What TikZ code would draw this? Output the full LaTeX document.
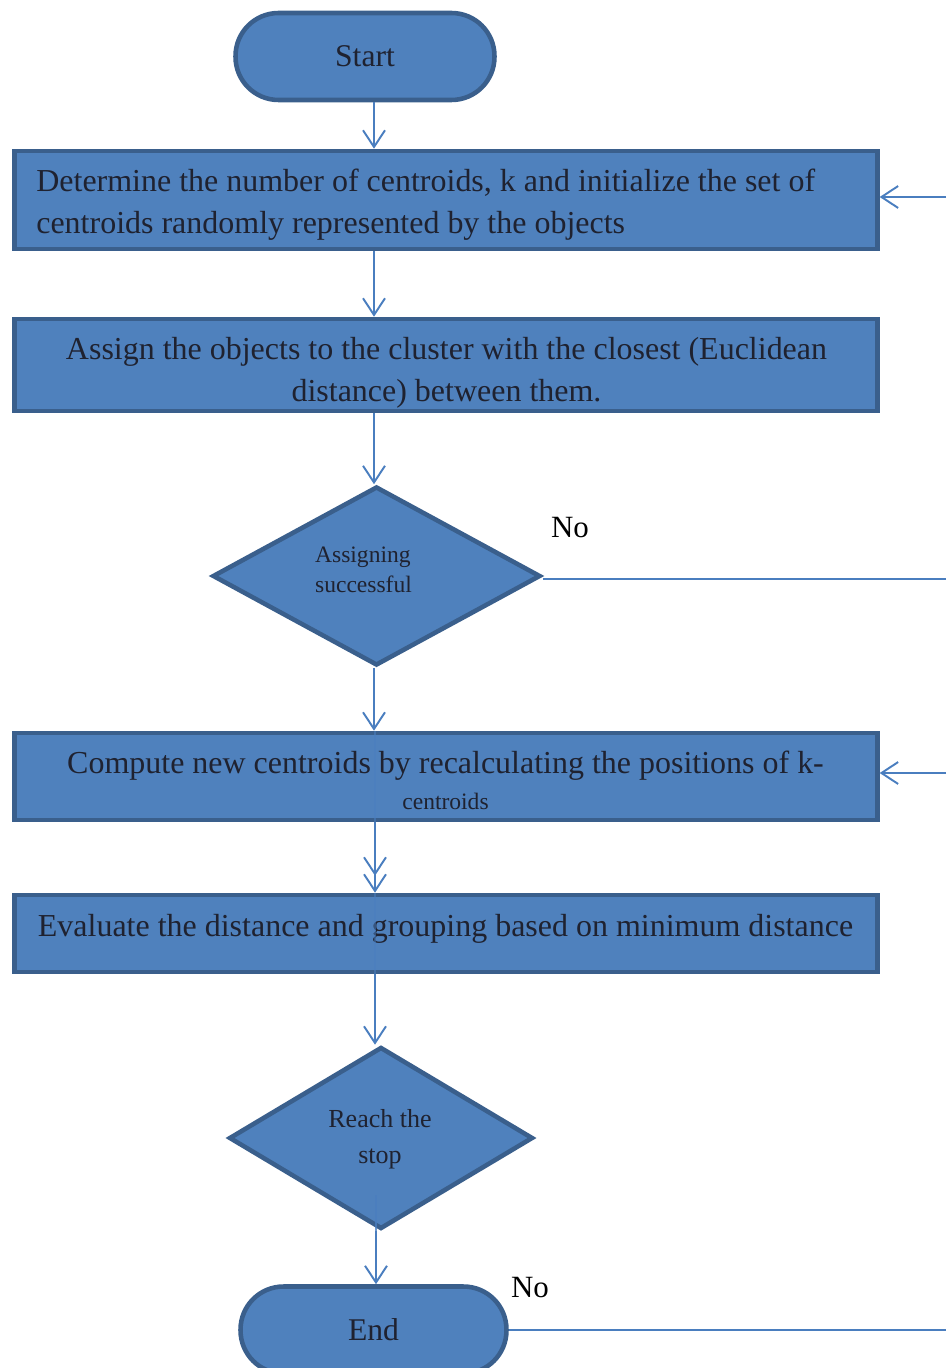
\documentclass[tikz,border=0pt]{standalone}
\usepackage{fontspec}
\setmainfont{Liberation Serif}
\usetikzlibrary{shapes.geometric,arrows.meta,calc}
\definecolor{boxfill}{HTML}{4F81BD}
\definecolor{boxedge}{HTML}{3A5F8C}
\definecolor{linkc}{HTML}{4A7EBF}
\definecolor{txt}{HTML}{1F2230}
\tikzset{
  proc/.style={rectangle, draw=boxedge, fill=boxfill, line width=2.6pt,
    minimum width=17.26cm, inner sep=0pt},
  proctext/.style={text=txt, inner sep=0pt, font=\fontsize{18.2}{23.8}\selectfont},
  term/.style={rectangle, rounded corners=0.86cm, draw=boxedge, fill=boxfill,
    line width=2.6pt, text=txt, font=\fontsize{18}{22}\selectfont},
  dec/.style={diamond, draw=boxedge, fill=boxfill, line width=2.6pt, inner sep=0pt},
  dectext/.style={text=txt, inner sep=0pt},
  link/.style={draw=linkc, line width=1.1pt},
  arr/.style={link, -{Straight Barb[length=9.5pt,width=12.5pt,line width=1.1pt]}},
  nolabel/.style={text=black, font=\fontsize{17.6}{20}\selectfont}
}
\begin{document}
\begin{tikzpicture}[x=0.02cm,y=-0.02cm]
\useasboundingbox (0,0) rectangle (946,1368);
\clip (0,0) rectangle (946,1368);
% helper coordinates
\coordinate (spine) at (374,0);
\coordinate (spine2) at (375,0);
\coordinate (in1) at (946,197);
\coordinate (in3) at (946,773);
\coordinate (out1) at (946,580);
\coordinate (out2) at (946,1334);
\coordinate (d2s) at (376,1195);

% nodes
\node[term, minimum width=5.18cm, minimum height=1.74cm] (start) at (365,56.5) {Start};
\node[proc, minimum height=1.96cm] (b1) at (446,200) {};
\node[proctext, anchor=west, align=left] (b1t) at (36,205)
  {Determine the number of centroids, k and initialize the set of\\centroids randomly represented by the objects};
\node[proc, minimum height=1.84cm] (b2) at (446,365) {};
\node[proctext, align=center] (b2t) at (446.5,373)
  {Assign the objects to the cluster with the closest (Euclidean\\distance) between them.};
\node[dec, minimum width=6.56cm, minimum height=3.58cm] (d1) at (376.5,576) {};
\node[dectext, align=left, font=\fontsize{13.4}{17}\selectfont] (d1t) at (363.5,570) {Assigning\\successful};
\node[proc, minimum height=1.74cm] (b3) at (446,776.5) {};
\node[proctext, align=center] (b3t) at (445.5,780.5)
  {Compute new centroids by recalculating the positions of k-\\[-3pt]{\fontsize{13.4}{15}\selectfont centroids}};
\node[proc, minimum height=1.54cm] (b4) at (446,933.5) {};
\node[proctext] (b4t) at (445.5,928.5)
  {Evaluate the distance and grouping based on minimum distance};
\node[dec, minimum width=6.08cm, minimum height=3.64cm] (d2) at (381,1138) {};
\node[dectext, align=center, font=\fontsize{14.8}{20.4}\selectfont] (d2t) at (380,1139) {Reach the\\stop};
\node[term, minimum width=5.32cm, minimum height=1.74cm] (endn) at (373.5,1330) {End};
\node[nolabel] (no1) at (570,528) {No};
\node[nolabel] (no2) at (530,1288) {No};

% connectors
\draw[arr] (start.south -| spine) -- (b1.north -| spine);
\draw[arr] (b1.south -| spine) -- (b2.north -| spine);
\draw[arr] (b2.south -| spine) -- (d1.north -| spine);
\draw[arr] (d1.south -| spine) -- (b3.north -| spine);
\draw[link, opacity=0.55] (b3.north -| spine2) -- (b3.south -| spine2);
\draw[arr] (b3.south -| spine2) -- ($(b4.north -| spine2)+(0,-17)$);
\draw[arr] (b3.south -| spine2) -- (b4.north -| spine2);
\draw[link, opacity=0.55] (b4.north -| spine2) -- (b4.south -| spine2);
\draw[arr] (b4.south -| spine2) -- (d2.north -| spine2);
\draw[link, opacity=0.8] (d2s) -- (d2.south -| d2s);
\draw[arr] (d2.south -| d2s) -- (endn.north -| d2s);
\draw[link] ($(d1.east)+(0,3)$) -- ($(out1 |- d1.east)+(0,3)$);
\draw[link] (endn.east) -- (out2 |- endn.east);
\draw[arr] (in1) -- (b1.east |- in1);
\draw[arr] (in3) -- (b3.east |- in3);
\end{tikzpicture}
\end{document}
